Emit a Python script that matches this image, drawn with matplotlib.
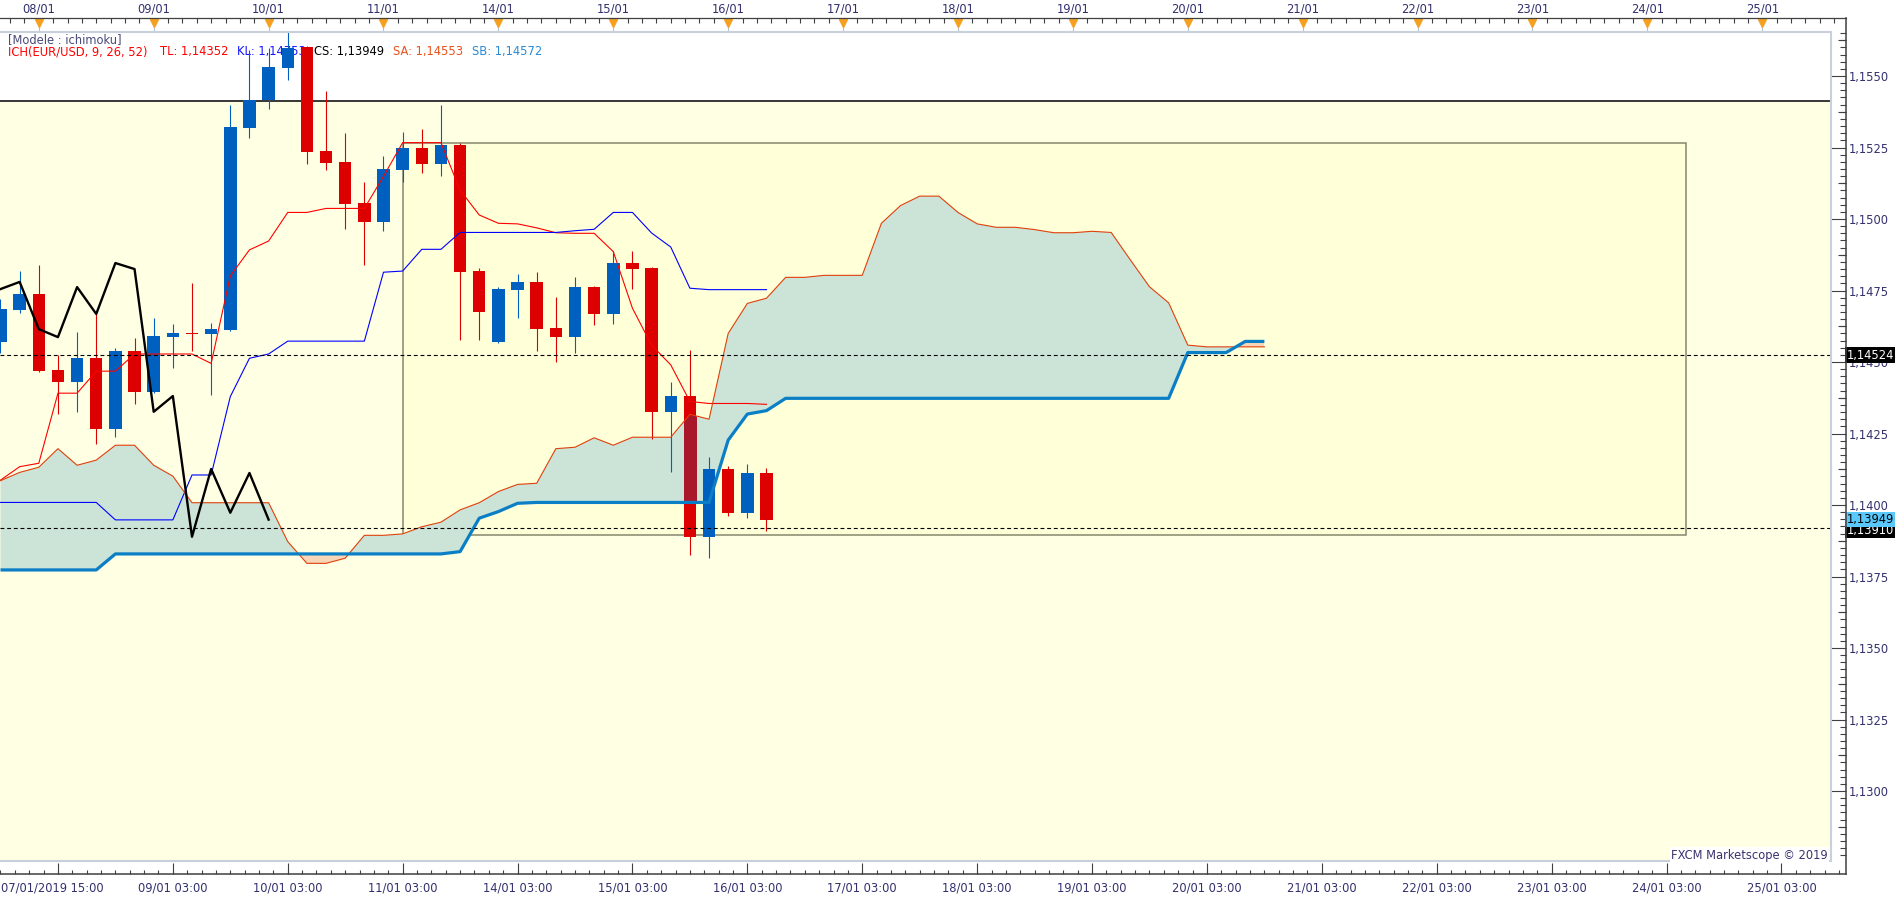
import matplotlib
matplotlib.use('Agg')
import matplotlib.pyplot as plt
import numpy as np
from matplotlib.patches import Rectangle
from matplotlib.lines import Line2D
from matplotlib.transforms import blended_transform_factory
from matplotlib.ticker import MultipleLocator, FuncFormatter

# ---------------- data ----------------
opens = [1.14571, 1.14682, 1.14738, 1.14472, 1.14431, 1.14514, 1.14267, 1.14538, 1.14395, 1.14588,
         1.14600, 1.14599, 1.14613, 1.15319, 1.15415, 1.15529, 1.15602, 1.15238, 1.15199, 1.15056,
         1.14991, 1.15171, 1.15248, 1.15192, 1.15259, 1.14818, 1.14570, 1.14752, 1.14780, 1.14619,
         1.14587, 1.14762, 1.14668, 1.14846, 1.14829, 1.14326, 1.14381, 1.13889, 1.14126, 1.13973,
         1.14112]
highs = [1.14720, 1.14818, 1.14839, 1.14523, 1.14605, 1.14672, 1.14548, 1.14584, 1.14654, 1.14633,
         1.14777, 1.14635, 1.15399, 1.15591, 1.15599, 1.15653, 1.15606, 1.15448, 1.15300, 1.15128,
         1.15220, 1.15304, 1.15315, 1.15399, 1.15266, 1.14830, 1.14763, 1.14809, 1.14815, 1.14728,
         1.14797, 1.14767, 1.14888, 1.14888, 1.14831, 1.14430, 1.14542, 1.14167, 1.14136, 1.14143,
         1.14129]
lows = [1.14533, 1.14672, 1.14466, 1.14319, 1.14326, 1.14214, 1.14239, 1.14354, 1.14390, 1.14480,
        1.14540, 1.14386, 1.14608, 1.15284, 1.15385, 1.15486, 1.15192, 1.15171, 1.14966, 1.14839,
        1.14959, 1.15130, 1.15161, 1.15151, 1.14577, 1.14577, 1.14568, 1.14654, 1.14538, 1.14500,
        1.14531, 1.14629, 1.14633, 1.14755, 1.14231, 1.14116, 1.13825, 1.13816, 1.13963, 1.13956,
        1.13910]
closes = [1.14685, 1.14738, 1.14470, 1.14431, 1.14514, 1.14267, 1.14538, 1.14395, 1.14591, 1.14600,
          1.14598, 1.14615, 1.15322, 1.15415, 1.15531, 1.15599, 1.15235, 1.15197, 1.15053, 1.14991,
          1.15175, 1.15248, 1.15192, 1.15259, 1.14815, 1.14675, 1.14755, 1.14780, 1.14615, 1.14587,
          1.14762, 1.14668, 1.14846, 1.14825, 1.14326, 1.14381, 1.13889, 1.14126, 1.13973, 1.14112,
          1.13949]

tenkan = [1.14087, 1.14134, 1.14146, 1.14391, 1.14391, 1.14468, 1.14468, 1.14528, 1.14528, 1.14528,
          1.14528, 1.14495, 1.14801, 1.14892, 1.14923, 1.15023, 1.15023, 1.15037, 1.15037, 1.15037,
          1.15149, 1.15267, 1.15267, 1.15267, 1.15101, 1.15014, 1.14985, 1.14983, 1.14969, 1.14952,
          1.14950, 1.14950, 1.14886, 1.14688, 1.14559, 1.14490, 1.14362, 1.14355, 1.14355, 1.14355,
          1.14352]
kijun = [1.14009, 1.14009, 1.14009, 1.14009, 1.14009, 1.14009, 1.13948, 1.13948, 1.13948, 1.13948,
         1.14105, 1.14105, 1.14379, 1.14513, 1.14528, 1.14573, 1.14573, 1.14573, 1.14573, 1.14573,
         1.14814, 1.14818, 1.14894, 1.14894, 1.14953, 1.14953, 1.14953, 1.14953, 1.14953, 1.14953,
         1.14959, 1.14964, 1.15023, 1.15023, 1.14951, 1.14902, 1.14758, 1.14753, 1.14753, 1.14753,
         1.14753]
senkou_a = [1.14085, 1.14114, 1.14132, 1.14197, 1.14139, 1.14157, 1.14209, 1.14209, 1.14139, 1.14101,
            1.14008, 1.14008, 1.14008, 1.14008, 1.14008, 1.13872, 1.13796, 1.13796, 1.13814, 1.13894,
            1.13894, 1.13899, 1.13924, 1.13940, 1.13983, 1.14008, 1.14047, 1.14072, 1.14076, 1.14197,
            1.14202, 1.14235, 1.14209, 1.14237, 1.14237, 1.14237, 1.14317, 1.14300, 1.14600, 1.14705,
            1.14723, 1.14796, 1.14796, 1.14803, 1.14803, 1.14803, 1.14985, 1.15047, 1.15080, 1.15080,
            1.15023, 1.14983, 1.14971, 1.14971, 1.14963, 1.14952, 1.14952, 1.14957, 1.14953, 1.14857,
            1.14763, 1.14707, 1.14559, 1.14553, 1.14553, 1.14553, 1.14553]
senkou_b = ([1.13773] * 6 + [1.13829] * 18 + [1.13837, 1.13954, 1.13977, 1.14006] + [1.14009] * 10 +
            [1.14227, 1.14318, 1.14330] + [1.14373] * 21 + [1.14533] * 3 + [1.14572] * 2)
chikou_shift = 26

top_labels = ["08/01", "09/01", "10/01", "11/01", "14/01", "15/01", "16/01", "17/01",
              "18/01", "19/01", "20/01", "21/01", "22/01", "23/01", "24/01", "25/01"]
first_label = "07/01/2019 15:00"
bottom_labels = ["09/01 03:00", "10/01 03:00", "11/01 03:00", "14/01 03:00", "15/01 03:00",
                 "16/01 03:00", "17/01 03:00", "18/01 03:00", "19/01 03:00", "20/01 03:00",
                 "21/01 03:00", "22/01 03:00", "23/01 03:00", "24/01 03:00", "25/01 03:00"]

zone_top = 1.15414                 # top of the yellow zone (black line)
box_x = [21, 88]                   # inner rectangle (candle index)
box_y = [1.13895, 1.15265]         # inner rectangle (price)
hlines_dashed = [1.14524, 1.13918]
price_tags = [(1.13910, 'black', 'white'), (1.13949, '#5ac8fa', 'black'), (1.14524, 'black', 'white')]

# ---------------- figure ----------------
W, H = 1903, 900
FS = 8.3
TXT = '#33306e'
fig = plt.figure(figsize=(W / 100, H / 100), dpi=100)
fig.patch.set_facecolor('white')
plt.rcParams['font.family'] = ['DejaVu Sans']

def fx(px):
    return px / W

def fy(py):
    return 1 - py / H

PL, PR, PT, PB = 0, 1831, 31.7, 861
ax = fig.add_axes([fx(PL), fy(PB), fx(PR - PL), (PB - PT) / H])
ax.set_facecolor('white')
ax.set_xlim(-0.0261, 95.588)
ax.set_ylim(1.127553, 1.156549)
ax.set_autoscale_on(False)
for s in ax.spines.values():
    s.set_visible(False)

trXdYf = blended_transform_factory(ax.transData, fig.transFigure)
trXfYd = blended_transform_factory(fig.transFigure, ax.transData)

# backgrounds
ax.axhspan(1.10, zone_top, color='#ffffe4', zorder=0, lw=0)
ax.axhline(zone_top, color='black', lw=1.1, zorder=0.6)
ax.add_patch(Rectangle((box_x[0], box_y[0]), box_x[1] - box_x[0], box_y[1] - box_y[0],
                       facecolor='#ffffd8', edgecolor='#86866e', lw=1.1, zorder=0.5))

# cloud
xs = np.arange(len(senkou_a))
sa = np.array(senkou_a)
sb = np.array(senkou_b)
ax.fill_between(xs, sa, sb, where=sa >= sb, interpolate=True, color='#cce4d8', lw=0, zorder=1)
ax.fill_between(xs, sa, sb, where=sa < sb, interpolate=True, color='#f6d6b6', lw=0, zorder=1)

# dashed levels
for lv in hlines_dashed:
    ax.axhline(lv, color='black', lw=0.8, ls=(0, (3.5, 2.5)), zorder=4.5)

# candles
o = np.array(opens); c = np.array(closes); h = np.array(highs); l = np.array(lows)
xi = np.arange(len(o))
up = c >= o
cols = np.where(up, '#0060c0', '#dc0000')
bw = 0.65
ax.vlines(xi, l, h, colors=cols, lw=0.8, zorder=2.9)
ax.bar(xi, c - o, bottom=o, width=bw, color=cols, lw=0, zorder=3)
# darker red where the cloud covers a red body
for i in xi[~up]:
    clip = Rectangle((i - bw / 2, c[i]), bw, o[i] - c[i], transform=ax.transData)
    fb = ax.fill_between(xs, sa, sb, color='#a8182a', lw=0, zorder=3.2)
    fb.set_clip_path(clip)

# ichimoku lines
ax.plot(xi, tenkan, color='#ff0000', lw=0.8, zorder=4)
ax.plot(xi, kijun, color='#0000ff', lw=0.8, zorder=4)
ax.plot(xs, senkou_a, color='#e0400c', lw=0.8, zorder=4)
ax.plot(xs, senkou_b, color='#0a7fc6', lw=2.3, zorder=4, solid_capstyle='butt')
ax.plot(xi[:-chikou_shift], c[chikou_shift:], color='black', lw=1.7, zorder=5)

# legend texts (beneath candles)
def fmt(v, d=5):
    return f"{v:.{d}f}".replace('.', ',')

ax.text(fx(8), fy(39.3), "[Modele : ichimoku]", transform=fig.transFigure, fontsize=FS,
        color='#4a4a7a', va='center', ha='left', zorder=1.5)
legend_parts = [
    (8, "ICH(EUR/USD, 9, 26, 52)", '#ff0000'),
    (160, f"TL: {fmt(tenkan[-1])}", '#ff0000'),
    (236.6, f"KL: {fmt(kijun[-1])}", '#1414ff'),
    (313.8, f"CS: {fmt(closes[-1])}", '#000000'),
    (393, f"SA: {fmt(senkou_a[-1])}", '#e8501a'),
    (472.3, f"SB: {fmt(senkou_b[-1])}", '#2a8ad4'),
]
for px, txt, col in legend_parts:
    ax.text(fx(px), fy(51.7), txt, transform=fig.transFigure, fontsize=FS, color=col,
            va='center', ha='left', zorder=1.5)

# plot border (top, right, bottom)
for xx, yy in [([0, 1], [1, 1]), ([1, 1], [0, 1]), ([0, 1], [0, 0])]:
    ax.add_line(Line2D(xx, yy, transform=ax.transAxes, color='#c8d0dc', lw=1.5,
                       clip_on=False, zorder=6))

# y axis on the right
ax.set_xticks([])
ax.yaxis.tick_right()
ax.spines['right'].set_position(('outward', 14.7 * 0.72))
ax.yaxis.set_major_locator(MultipleLocator(0.0025))
ax.yaxis.set_minor_locator(MultipleLocator(0.00025))
ax.yaxis.set_major_formatter(FuncFormatter(lambda v, p: fmt(v, 4)))
ax.tick_params(axis='y', which='major', direction='in', length=15 * 0.72, width=0.8,
               color='#404040', labelsize=FS, labelcolor=TXT, pad=2)
ax.tick_params(axis='y', which='minor', direction='in', length=6 * 0.72, width=0.8,
               color='#404040')
# medium ticks halfway between labelled ticks
ylo, yhi = ax.get_ylim()
mids = np.arange(np.ceil(ylo / 0.0025) * 0.0025 - 0.00125, yhi, 0.0025)
mids = mids[(mids > ylo) & (mids < yhi)]
ax.hlines(mids, fx(1837.7), fx(1845.7), transform=trXfYd, colors='#404040', lw=0.8,
          clip_on=False, zorder=5)
fig.add_artist(Line2D([fx(1845.7)] * 2, [fy(18.3), fy(874)], color='#404040', lw=1.1))

for val, fc, tc in price_tags:
    ax.text(fx(1846.3), val, fmt(val), transform=trXfYd, ha='left', va='center', fontsize=FS,
            color=tc, bbox=dict(boxstyle='square,pad=0.1', fc=fc, ec='none'),
            clip_on=False, zorder=7)

# top ruler
fig.add_artist(Line2D([0, fx(1845.7)], [fy(18.3)] * 2, color='#404040', lw=0.9))
minor_top = np.arange(0.5, 96.4, 0.75)
ax.vlines(minor_top, fy(23.3), fy(18.3), transform=trXdYf, colors='#404040', lw=0.8,
          clip_on=False)
top_pos = 2 + 6 * np.arange(len(top_labels))
ax.vlines(top_pos, fy(31.7), fy(23), transform=trXdYf, colors='#b8c0cc', lw=0.8, clip_on=False)
ax.plot(top_pos, [fy(22.6)] * len(top_pos), 'v', ms=6, color='#f5a020', mec='#f5a020',
        transform=trXdYf, clip_on=False, zorder=6)
for p, t in zip(top_pos, top_labels):
    ax.text(p, fy(9), t, transform=trXdYf, ha='center', va='center', fontsize=FS,
            color=TXT, clip_on=False)

# bottom ruler
fig.add_artist(Line2D([0, fx(1845.7)], [fy(874)] * 2, color='#404040', lw=1.1))
minor_bot = np.arange(0.0, 96.4, 0.75)
ax.vlines(minor_bot, fy(874), fy(869.5), transform=trXdYf, colors='#404040', lw=0.8,
          clip_on=False)
major_bot = 3 + 6 * np.arange(16)
ax.vlines(major_bot, fy(874), fy(862.5), transform=trXdYf, colors='#404040', lw=0.8,
          clip_on=False)
ax.text(fx(1), fy(888), first_label, transform=fig.transFigure, ha='left', va='center',
        fontsize=FS, color=TXT)
bot_pos = 9 + 6 * np.arange(len(bottom_labels))
for p, t in zip(bot_pos, bottom_labels):
    ax.text(p, fy(888), t, transform=trXdYf, ha='center', va='center', fontsize=FS,
            color=TXT, clip_on=False)

# watermark
ax.text(fx(1828), fy(855), "FXCM Marketscope \u00a9 2019", transform=fig.transFigure,
        ha='right', va='center', fontsize=FS, color='#3c3070',
        bbox=dict(boxstyle='square,pad=0.1', fc='white', ec='none'), zorder=6)

fig.savefig('out.png', dpi=100, facecolor='white')
